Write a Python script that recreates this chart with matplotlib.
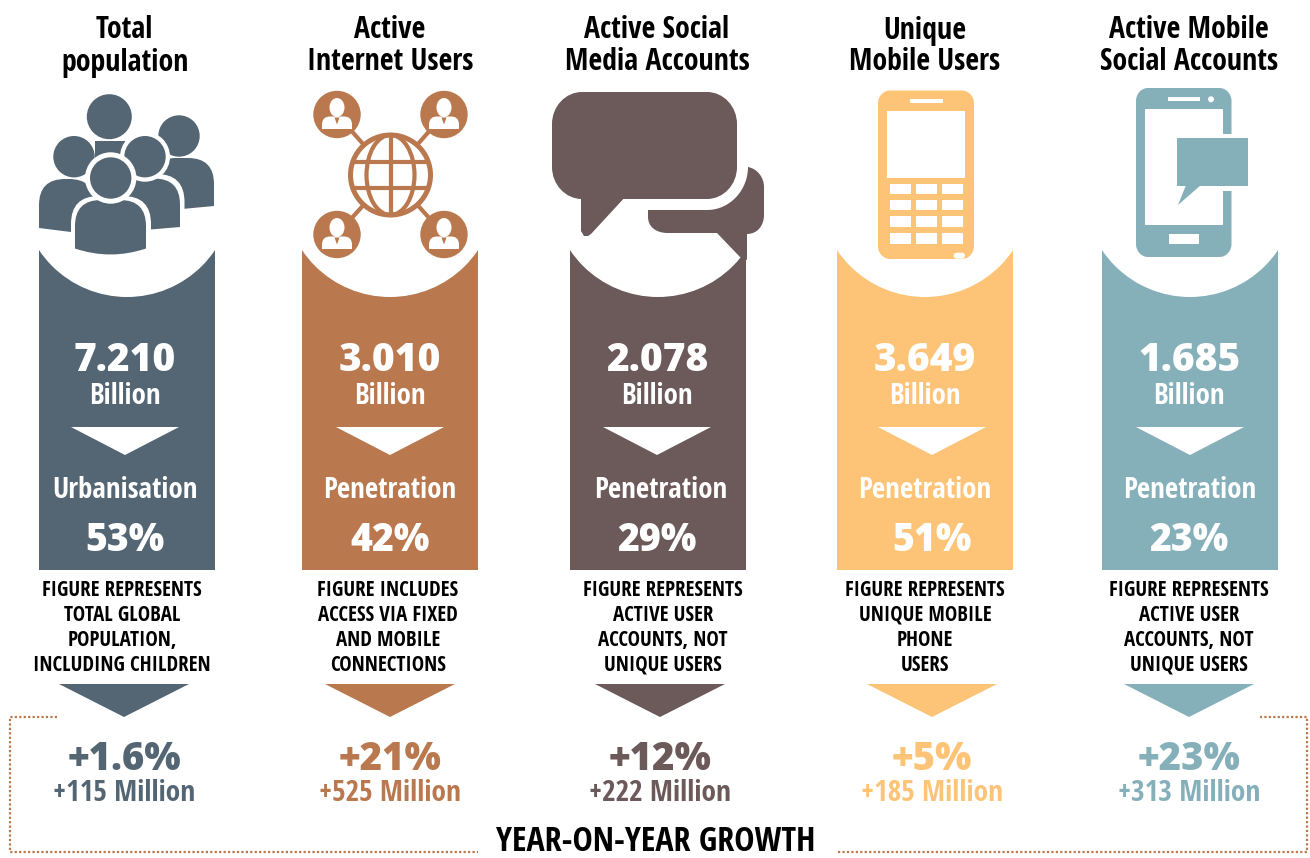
import matplotlib
matplotlib.use("Agg")
import matplotlib.pyplot as plt
import numpy as np
from matplotlib.patches import Rectangle, Circle, Ellipse, Polygon, PathPatch
from matplotlib.path import Path

titles = [["Total", "population"], ["Active", "Internet Users"], ["Active Social", "Media Accounts"],
          ["Unique", "Mobile Users"], ["Active Mobile", "Social Accounts"]]
values = ["7.210", "3.010", "2.078", "3.649", "1.685"]
units = ["Billion"] * 5
rate_labels = ["Urbanisation", "Penetration", "Penetration", "Penetration", "Penetration"]
rates = ["53%", "42%", "29%", "51%", "23%"]
notes = [["FIGURE REPRESENTS", "TOTAL GLOBAL", "POPULATION,", "INCLUDING CHILDREN"],
         ["FIGURE INCLUDES", "ACCESS VIA FIXED", "AND MOBILE", "CONNECTIONS"],
         ["FIGURE REPRESENTS", "ACTIVE USER", "ACCOUNTS, NOT", "UNIQUE USERS"],
         ["FIGURE REPRESENTS", "UNIQUE MOBILE", "PHONE", "USERS"],
         ["FIGURE REPRESENTS", "ACTIVE USER", "ACCOUNTS, NOT", "UNIQUE USERS"]]
growth_pct = ["+1.6%", "+21%", "+12%", "+5%", "+23%"]
growth_abs = ["+115 Million", "+525 Million", "+222 Million", "+185 Million", "+313 Million"]
footer = "YEAR-ON-YEAR GROWTH"
colors = ["#546673", "#B9784D", "#6C5959", "#FDC477", "#85B0BA"]

bar_left = [39, 302, 570, 837, 1102]
title_x = [125, 390, 657, 925, 1189]
label_x = [125, 390, 661, 925, 1190]
rate_x = [125, 390, 657, 932, 1189]
note_x = [122, 388, 663, 925, 1189]
tri_x = [125, 390, 657, 932, 1190]
tri2_x = [124, 390, 660, 932, 1189]

W = "white"
NARROW = "Open Sans Condensed"
WIDE = "Open Sans"

fig = plt.figure(figsize=(13.1, 8.58), dpi=100)
ax = fig.add_axes([0, 0, 1, 1])
ax.set_xlim(0, 1310)
ax.set_ylim(858, 0)
ax.axis("off")


def T(x, y, s, size, color="black", fam=NARROW, weight="bold"):
    ax.text(x, y, s, fontsize=size, color=color, family=fam, fontweight=weight,
            ha="center", va="center_baseline")


def rect(x0, y0, x1, y1, c, z=3):
    ax.add_patch(Rectangle((x0, y0), x1 - x0, y1 - y0, fc=c, ec="none", zorder=z))


def rrect(x0, y0, x1, y1, rx, ry, c, z=3):
    k = 0.55
    v = [(x0 + rx, y0), (x1 - rx, y0), (x1 - rx + k * rx, y0), (x1, y0 + ry - k * ry), (x1, y0 + ry),
         (x1, y1 - ry), (x1, y1 - ry + k * ry), (x1 - rx + k * rx, y1), (x1 - rx, y1),
         (x0 + rx, y1), (x0 + rx - k * rx, y1), (x0, y1 - ry + k * ry), (x0, y1 - ry),
         (x0, y0 + ry), (x0, y0 + ry - k * ry), (x0 + rx - k * rx, y0), (x0 + rx, y0), (x0 + rx, y0)]
    codes = [Path.MOVETO, Path.LINETO, Path.CURVE4, Path.CURVE4, Path.CURVE4, Path.LINETO,
             Path.CURVE4, Path.CURVE4, Path.CURVE4, Path.LINETO, Path.CURVE4, Path.CURVE4, Path.CURVE4,
             Path.LINETO, Path.CURVE4, Path.CURVE4, Path.CURVE4, Path.CLOSEPOLY]
    ax.add_patch(PathPatch(Path(v, codes), fc=c, ec="none", zorder=z))


def body(x0, x1, top, bot_l, bot_r, sag, c, z, r=26):
    """Rounded-shoulder torso with a curved lower edge."""
    midx = (x0 + x1) / 2
    v = [(x0, bot_l), (x0, top + r), (x0, top), (x0 + r, top), (x1 - r, top), (x1, top), (x1, top + r),
         (x1, bot_r), (midx, (bot_l + bot_r) / 2 + sag), (x0, bot_l), (x0, bot_l)]
    codes = [Path.MOVETO, Path.LINETO, Path.CURVE3, Path.CURVE3, Path.LINETO, Path.CURVE3, Path.CURVE3,
             Path.LINETO, Path.CURVE3, Path.CURVE3, Path.CLOSEPOLY]
    ax.add_patch(PathPatch(Path(v, codes), fc=c, ec="none", zorder=z))


def head(x, y, r, c, z, ring=0):
    if ring:
        ax.add_patch(Circle((x, y), ring, fc=W, ec="none", zorder=z))
    ax.add_patch(Circle((x, y), r, fc=c, ec="none", zorder=z))


# columns
for i in range(5):
    c = colors[i]
    x0 = bar_left[i]
    cx = x0 + 88
    rect(x0, 249, x0 + 176, 570, c, z=1)
    ax.add_patch(Circle((cx, 191), 106, fc=W, ec="none", zorder=2))
    t1, t2 = titles[i]
    T(title_x[i] - (1 if i == 0 else 0), 27, t1, 21.5)
    T(title_x[i], 59, t2, 21.5)
    T(title_x[i], 356, values[i], 28, W, WIDE, 800)
    T(title_x[i], 393, units[i], 20.8, W)
    ax.add_patch(Polygon([(tri_x[i] - 54, 427), (tri_x[i] + 54, 427), (tri_x[i], 455)], fc=W, ec="none", zorder=3))
    T(label_x[i], 487, rate_labels[i], 20.8, W)
    T(rate_x[i], 536, rates[i], 27, W, WIDE, 800)
    for j, line in enumerate(notes[i]):
        T(note_x[i], 588 + 25 * j, line, 15)
    ax.add_patch(Polygon([(tri2_x[i] - 65, 684), (tri2_x[i] + 65, 684), (tri2_x[i], 717)], fc=c, ec="none", zorder=3))
    T(tri2_x[i], 755, growth_pct[i], 27.5, c, WIDE, 800)
    T(tri2_x[i], 790, growth_abs[i], 21.2, c)

# footer frame
fc = colors[1]
dot = dict(color=fc, lw=1.6, ls=(0, (1, 1.0)), zorder=2)
ax.plot([57, 10, 10, 478], [717, 717, 852, 852], **dot)
ax.plot([838, 1307, 1307, 1260], [852, 852, 717, 717], **dot)
T(656, 838, footer, 24.5)

# people icon
c = colors[0]
rect(95, 141, 125, 160, c, 3)
head(109.3, 116.7, 22.5, c, 4)
body(150, 214, 158, 212, 206, 0, c, 3)
head(179, 136, 20.7, c, 4)
body(39, 95, 179, 228, 235, 0, c, 5)
head(74, 156.7, 20.7, c, 5)
body(105, 184.5, 174, 234, 231, 0, W, 6, r=28)
body(110, 180, 178.5, 233, 227, 0, c, 6.1)
head(145, 156.7, 20.7, c, 6.2, ring=25)
body(71, 151, 196, 252, 252, 8, W, 7, r=28)
body(75, 146, 200, 248.5, 248.5, 12, c, 7.1)
head(110.7, 178, 20.7, c, 7.2, ring=25.7)

# globe icon
c = colors[1]
gx, gy = 390.5, 175
nodes = [(337, 114.5), (444, 114.5), (337, 234.5), (444, 234.5)]
for nx, ny in nodes:
    ax.plot([nx, gx], [ny, gy], color=c, lw=3, zorder=3)
for nx, ny in nodes:
    ax.add_patch(Circle((nx, ny), 23.7, fc=c, ec="none", zorder=4))
    ax.add_patch(Ellipse((nx, ny - 7), 15, 19, fc=W, ec="none", zorder=5))
    body(nx - 15, nx + 15, ny + 2, ny + 14.5, ny + 14.5, 0, W, 5, r=8)
    ax.add_patch(Polygon([(nx - 2.5, ny + 3), (nx + 2.5, ny + 3), (nx, ny + 10)], fc=c, ec="none", zorder=5.1))
ax.add_patch(Circle((gx, gy), 40, fc=W, ec=c, lw=3.6, zorder=4))
ax.add_patch(Ellipse((gx, gy), 48, 80, fc="none", ec=c, lw=3, zorder=5))
for yy in (162, 188):
    h = np.sqrt(40 ** 2 - (yy - gy) ** 2)
    ax.plot([gx - h, gx + h], [yy, yy], color=c, lw=3, zorder=5, solid_capstyle="butt")
ax.plot([gx, gx], [gy - 40, gy + 40], color=c, lw=3, zorder=5, solid_capstyle="butt")

# speech bubbles
c = colors[2]
M, L, C, X = Path.MOVETO, Path.LINETO, Path.CURVE4, Path.CLOSEPOLY
v = [(648, 210), (707, 210), (730, 210), (748, 190), (748, 167), (758, 169), (764, 178), (764, 187),
     (764, 215), (764, 226), (757, 234), (747, 234), (747, 260), (740, 257), (717, 233), (668, 233),
     (655, 233), (648, 226), (648, 217), (648, 210)]
codes = [M, L, C, C, C, C, C, C, L, C, C, C, L, L, L, L, C, C, C, X]
ax.add_patch(PathPatch(Path(v, codes), fc=c, ec="none", zorder=3))
rrect(552, 92, 737, 199, 30, 32, c, z=4)
ax.add_patch(Polygon([(581, 195), (581, 231), (584, 236), (588, 236), (591, 234), (627, 195)], fc=c, ec="none", zorder=4))

# feature phone
c = colors[3]
rrect(878, 90.5, 974, 259, 12, 13, c)
rect(910, 99, 943, 103, W, 4)
rect(887, 111, 965, 178, W, 4)
for y0, y1 in [(183.7, 194), (199.7, 210), (216.3, 227), (233, 243.7)]:
    for x0, x1 in [(889.6, 911), (916, 937), (942, 963)]:
        rect(x0, y0, x1, y1, W, 4)
rrect(953.6, 252.7, 965, 258.7, 3, 3, W, z=4)

# smartphone
c = colors[4]
rrect(1136, 88, 1231.5, 257, 12, 13, c)
rect(1145, 109.3, 1222.6, 224.7, W, 4)
rect(1167.5, 97, 1200.4, 101.3, W, 4)
ax.add_patch(Ellipse((1211, 99.3), 6, 6, fc=W, ec="none", zorder=4))
rect(1169, 234.3, 1199, 243.7, W, 4)
rect(1222, 134, 1233, 190.7, W, 4)
rect(1177, 138, 1248, 185.7, c, 5)
ax.add_patch(Polygon([(1186, 185), (1178, 205), (1201, 185)], fc=c, ec="none", zorder=5))

fig.savefig("out.png", dpi=100)
